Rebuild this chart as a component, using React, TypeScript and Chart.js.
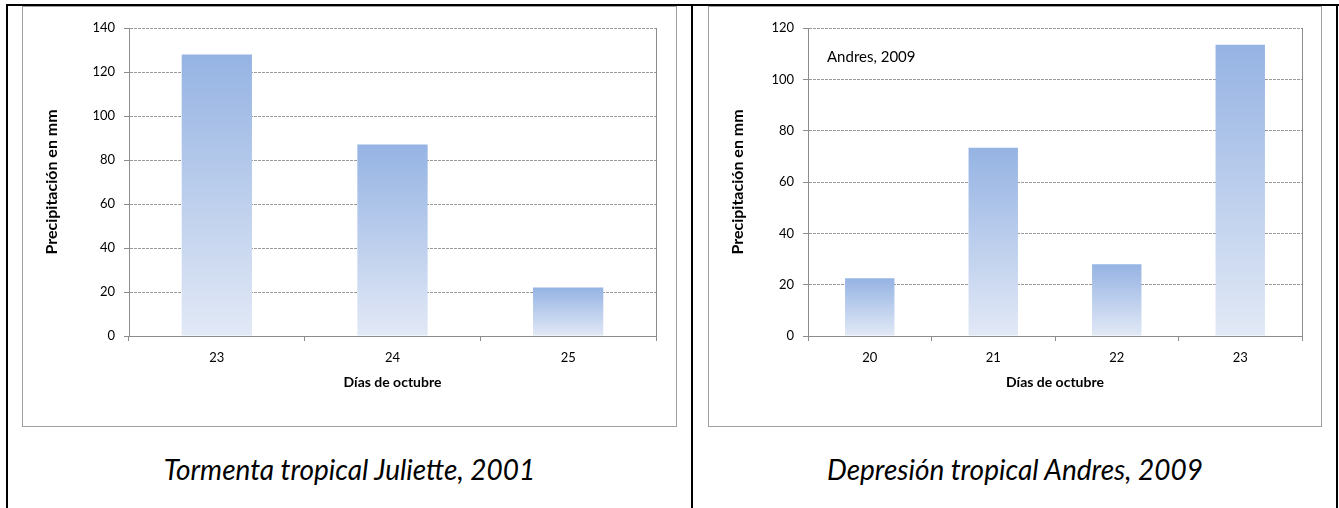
import React, { useEffect, useRef } from "react";
import { Chart, registerables } from "chart.js";

Chart.register(...registerables);

// ---- data ----
const julietteDays = ["23", "24", "25"];
const juliettePrecip = [128, 87, 22];
const julietteYMax = 140;

const andresDays = ["20", "21", "22", "23"];
const andresPrecip = [22.5, 73.3, 28, 113.5];
const andresYMax = 120;

const yStep = 20;
const yTitle = "Precipitación en mm";
const xTitle = "Días de octubre";
const captionLeft = "Tormenta tropical Juliette, 2001";
const captionRight = "Depresión tropical Andres, 2009";
const andresNote = "Andres, 2009";

const FONT = "Lato, 'Open Sans', 'DejaVu Sans', sans-serif";
const AXIS = "#8c8c8c";
const GRID = "#9a9a9a";

type PanelProps = {
  labels: string[];
  values: number[];
  max: number;
  width: number;
  height: number;
  yAxisWidth: number;
  padRight: number;
  note?: string;
};

function BarPanel({ labels, values, max, width, height, yAxisWidth, padRight, note }: PanelProps) {
  const ref = useRef<HTMLCanvasElement>(null);

  useEffect(() => {
    if (!ref.current) return;
    const framePlugin = {
      id: "frame",
      afterDraw(chart: any) {
        const { ctx, chartArea } = chart;
        ctx.save();
        const x = Math.round(chartArea.right) + 0.5;
        ctx.strokeStyle = AXIS;
        ctx.lineWidth = 1;
        ctx.setLineDash([]);
        ctx.beginPath();
        ctx.moveTo(x, Math.round(chartArea.top));
        ctx.lineTo(x, Math.round(chartArea.bottom) + 1);
        ctx.stroke();
        if (note) {
          ctx.fillStyle = "#000";
          ctx.font = `15px ${FONT}`;
          ctx.textBaseline = "middle";
          ctx.textAlign = "left";
          ctx.fillText(note, chartArea.left + 19, chartArea.top + 29);
        }
        ctx.restore();
      },
    };

    const chart = new Chart(ref.current, {
      type: "bar",
      data: {
        labels,
        datasets: [
          {
            data: values,
            borderWidth: 0,
            barPercentage: 0.4,
            categoryPercentage: 1,
            backgroundColor: (c: any) => {
              const ch = c.chart;
              if (!ch.chartArea || c.type !== "data") return "#97b4e4";
              const ys = ch.scales.y;
              const top = ys.getPixelForValue(c.raw as number);
              const base = ys.getPixelForValue(0);
              const g = ch.ctx.createLinearGradient(0, top, 0, base);
              g.addColorStop(0, "#95b3e3");
              g.addColorStop(1, "#e2e9f6");
              return g;
            },
          },
        ],
      },
      options: {
        responsive: false,
        maintainAspectRatio: false,
        animation: false,
        layout: { padding: { top: 21, right: padRight, left: 0, bottom: 0 } },
        plugins: { legend: { display: false }, tooltip: { enabled: false } },
        scales: {
          x: {
            ticks: { color: "#000", font: { family: FONT, size: 13 }, padding: 9 },
            grid: {
              offset: true,
              drawOnChartArea: false,
              drawTicks: true,
              tickLength: 5,
              color: AXIS,
              tickColor: AXIS,
            },
            border: { display: true, color: AXIS },
            title: {
              display: true,
              text: xTitle,
              color: "#000",
              font: { family: FONT, size: 14, weight: "bold" },
              padding: { top: 0, bottom: 35 },
            },
            afterFit: (s: any) => {
              s.height = 90;
            },
          },
          y: {
            min: 0,
            max,
            ticks: { stepSize: yStep, color: "#000", font: { family: FONT, size: 13 }, padding: 9 },
            grid: {
              color: (c: any) => (c.tick && c.tick.value === 0 ? "rgba(0,0,0,0)" : GRID),
              tickColor: AXIS,
              tickLength: 5,
              tickBorderDash: [],
              drawTicks: true,
            },
            border: { display: true, color: AXIS, dash: [3, 1] },
            title: {
              display: true,
              text: yTitle,
              color: "#000",
              font: { family: FONT, size: 16, weight: "bold" },
              padding: { top: 19, bottom: 0 },
            },
            afterFit: (s: any) => {
              s.width = yAxisWidth;
            },
          },
        },
      } as any,
      plugins: [framePlugin],
    });
    return () => chart.destroy();
  }, []);

  return <canvas ref={ref} width={width} height={height} style={{ display: "block", width, height }} />;
}

const abs = (left: number, top: number, width: number, height: number, extra: React.CSSProperties = {}): React.CSSProperties => ({
  position: "absolute",
  left,
  top,
  width,
  height,
  boxSizing: "border-box",
  ...extra,
});

export default function App() {
  const captionStyle: React.CSSProperties = {
    fontFamily: FONT,
    fontStyle: "italic",
    fontSize: 28,
    lineHeight: "34px",
    textAlign: "center",
    color: "#000",
    whiteSpace: "nowrap",
  };
  return (
    <div style={abs(0, 0, 1339, 508, { background: "#fff", overflow: "hidden" })}>
      {/* table borders */}
      <div style={abs(6, 4, 1333, 2, { background: "#000" })} />
      <div style={abs(6, 4, 2, 504, { background: "#000" })} />
      <div style={abs(691, 4, 2, 504, { background: "#000" })} />
      <div style={abs(1336, 4, 2, 504, { background: "#000" })} />

      {/* left chart */}
      <div style={abs(22, 6, 655, 421, { border: "1px solid #a0a0a0" })} />
      <div style={abs(23, 7, 653, 419)}>
        <BarPanel
          labels={julietteDays}
          values={juliettePrecip}
          max={julietteYMax}
          width={653}
          height={419}
          yAxisWidth={106}
          padRight={20}
        />
      </div>
      <div style={abs(22, 452, 655, 34, captionStyle)}>{captionLeft}</div>

      {/* right chart */}
      <div style={abs(708, 6, 614, 421, { border: "1px solid #a0a0a0" })} />
      <div style={abs(709, 7, 612, 419)}>
        <BarPanel
          labels={andresDays}
          values={andresPrecip}
          max={andresYMax}
          width={612}
          height={419}
          yAxisWidth={99}
          padRight={19}
          note={andresNote}
        />
      </div>
      <div style={abs(708, 452, 614, 34, captionStyle)}>{captionRight}</div>
    </div>
  );
}
